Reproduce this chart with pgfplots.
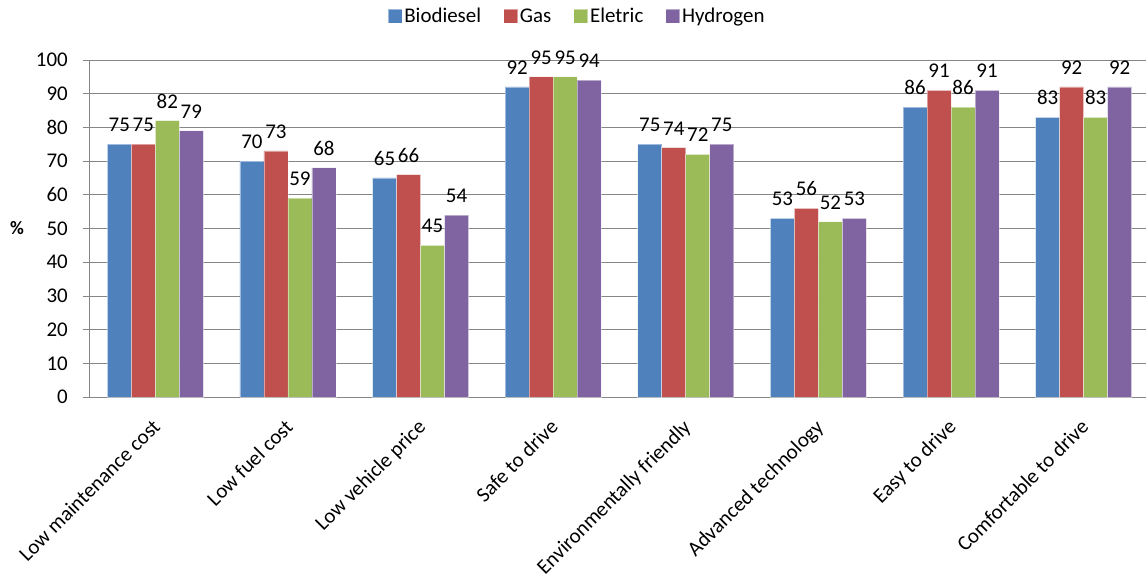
\documentclass[border=0pt]{standalone}
\usepackage{pgfplots}
\pgfplotsset{compat=1.18}
\usepackage{fontspec}
\setmainfont{Carlito}
\definecolor{cBio}{HTML}{4F81BD}
\definecolor{cGas}{HTML}{C0504D}
\definecolor{cEle}{HTML}{9BBB59}
\definecolor{cHyd}{HTML}{8064A2}
\definecolor{gridc}{HTML}{868686}
\begin{document}
\begin{tikzpicture}
\begin{axis}[
  at={(0,0)}, anchor=south west,
  scale only axis,
  width=1057bp, height=337bp,
  ybar=0pt, bar width=0.181,
  xmin=-0.5, xmax=7.47,
  ymin=0, ymax=100,
  ytick={0,10,...,100},
  xtick={0,...,7},
  xticklabels={Low maintenance cost,Low fuel cost,Low vehicle price,Safe to drive,Environmentally friendly,Advanced technology,Easy to drive,Comfortable to drive},
  major x tick style={draw=none},
  extra x ticks={-0.5,0.5,1.5,2.5,3.5,4.5,5.5,6.5},
  extra x tick labels={},
  extra x tick style={major tick length=6bp, tick style={draw=gridc, line width=0.8bp}},
  axis lines*=left,
  axis line style={draw=gridc, line width=0.8bp, -},
  tick align=outside,
  major tick length=6bp,
  ytick style={draw=gridc, line width=0.8bp},
  ymajorgrids,
  grid style={draw=gridc, line width=0.8bp},
  tick label style={font=\fontsize{21}{23}\selectfont},
  /pgf/number format/assume math mode=true,
  xticklabel style={rotate=45, anchor=north east, inner sep=1bp, yshift=-6.6bp, xshift=-12.4bp},
  yticklabel style={inner sep=2bp, xshift=-13bp},
  ylabel={\textbf{\%}},
  ylabel style={rotate=-90, at={(axis description cs:-0.068,0.5)}, anchor=center, font=\fontsize{19}{21}\selectfont},
  nodes near coords,
  nodes near coords style={font=\fontsize{21}{23}\selectfont, color=black, anchor=south, inner sep=2bp, yshift=10bp},
  legend columns=4,
  legend style={draw=none, at={(axis description cs:0.4617,1.1306)}, anchor=center, font=\fontsize{21}{23}\selectfont, /tikz/every even column/.append style={column sep=20bp}},
  legend image code/.code={\fill[#1] (0bp,-7bp) rectangle (14bp,7bp);},
  clip=false,
]
\addplot[fill=cBio, draw=white, draw opacity=0.45, line width=0.8bp] coordinates {(0,75) (1,70) (2,65) (3,92) (4,75) (5,53) (6,86) (7,83)};
\addplot[fill=cGas, draw=white, draw opacity=0.45, line width=0.8bp] coordinates {(0,75) (1,73) (2,66) (3,95) (4,74) (5,56) (6,91) (7,92)};
\addplot[fill=cEle, draw=white, draw opacity=0.45, line width=0.8bp] coordinates {(0,82) (1,59) (2,45) (3,95) (4,72) (5,52) (6,86) (7,83)};
\addplot[fill=cHyd, draw=white, draw opacity=0.45, line width=0.8bp] coordinates {(0,79) (1,68) (2,54) (3,94) (4,75) (5,53) (6,91) (7,92)};
\legend{Biodiesel,Gas,Eletric,Hydrogen}
\end{axis}
\pgfresetboundingbox
\path (-89bp,-180bp) rectangle (1057bp,397bp);
\end{tikzpicture}
\end{document}
